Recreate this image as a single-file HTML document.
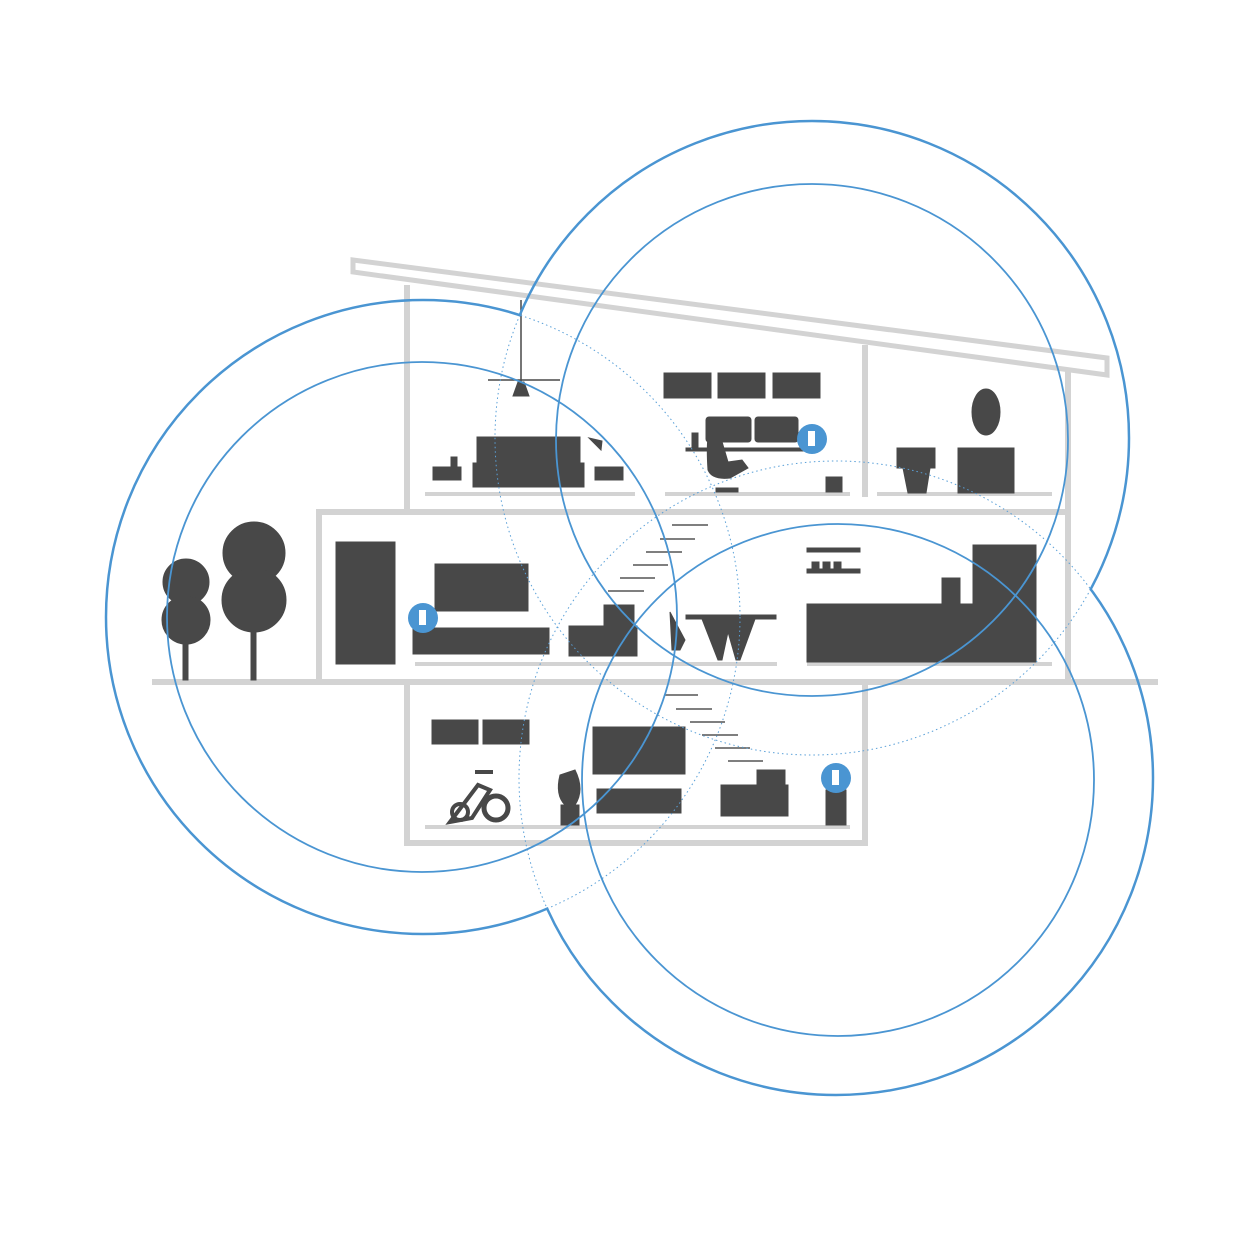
<!DOCTYPE html>
<html><head><meta charset="utf-8"><style>html,body{margin:0;padding:0;background:#fff}svg{display:block}</style></head>
<body>
<svg width="1250" height="1250" viewBox="0 0 1250 1250" xmlns="http://www.w3.org/2000/svg">
<defs>
<mask id="mL" maskUnits="userSpaceOnUse" x="0" y="0" width="1250" height="1250"><rect width="1250" height="1250" fill="#fff"/><circle cx="812" cy="438" r="316" fill="#000"/><circle cx="836" cy="778" r="316" fill="#000"/></mask>
<mask id="mT" maskUnits="userSpaceOnUse" x="0" y="0" width="1250" height="1250"><rect width="1250" height="1250" fill="#fff"/><circle cx="423" cy="617" r="316" fill="#000"/><circle cx="836" cy="778" r="316" fill="#000"/></mask>
<mask id="mB" maskUnits="userSpaceOnUse" x="0" y="0" width="1250" height="1250"><rect width="1250" height="1250" fill="#fff"/><circle cx="423" cy="617" r="316" fill="#000"/><circle cx="812" cy="438" r="316" fill="#000"/></mask>
</defs>
<g fill="none" stroke="#d3d3d3" stroke-width="6">
<polygon points="353,260 1107,358 1107,375 353,272" stroke-width="5"/>
<line x1="407" y1="285" x2="407" y2="512"/>
<line x1="865" y1="345" x2="865" y2="497"/>
<line x1="1068" y1="368" x2="1068" y2="682"/>
<line x1="316" y1="512" x2="1070" y2="512"/>
<line x1="319" y1="512" x2="319" y2="682"/>
<line x1="152" y1="682" x2="1158" y2="682"/>
<polyline points="407,682 407,843 865,843 865,682"/>
</g>
<g stroke="#d3d3d3" stroke-width="4">
<line x1="425" y1="494" x2="635" y2="494"/><line x1="665" y1="494" x2="850" y2="494"/><line x1="877" y1="494" x2="1052" y2="494"/>
<line x1="415" y1="664" x2="777" y2="664"/><line x1="807" y1="664" x2="1052" y2="664"/>
<line x1="425" y1="827" x2="850" y2="827"/>
</g>
<g fill="#484848" stroke="#484848">
<line x1="521" y1="300" x2="521" y2="382" stroke-width="1.5"/><line x1="488" y1="380" x2="560" y2="380" stroke-width="1.5"/>
<polygon points="513,396 529,396 524,382 518,382"/>
<rect x="477" y="437" width="103" height="28"/><rect x="473" y="463" width="111" height="24"/>
<rect x="433" y="467" width="28" height="13"/><rect x="451" y="457" width="6" height="10"/>
<rect x="595" y="467" width="28" height="13"/><polygon points="589,438 602,441 601,450"/>
<rect x="664" y="373" width="47" height="25"/><rect x="718" y="373" width="47" height="25"/><rect x="773" y="373" width="47" height="25"/>
<rect x="706" y="417" width="45" height="25" rx="3"/><rect x="755" y="417" width="43" height="25" rx="3"/>
<path d="M715,418 Q705,425 708,470 Q712,480 730,478 L748,468 L742,460 L728,462 Z"/>
<rect x="692" y="433" width="6" height="15"/><rect x="686" y="448" width="128" height="3"/>
<rect x="826" y="477" width="16" height="15"/><rect x="716" y="488" width="22" height="4"/>
<ellipse cx="986" cy="412" rx="14" ry="23"/>
<rect x="958" y="448" width="56" height="45"/><rect x="897" y="448" width="38" height="20"/><path d="M903,468 L930,468 L926,493 L908,493 Z"/>
<circle cx="186" cy="582" r="23"/><circle cx="186" cy="620" r="24"/><rect x="183" y="620" width="5" height="60"/>
<circle cx="254" cy="553" r="31"/><circle cx="254" cy="600" r="32"/><rect x="251" y="600" width="5" height="80"/>
<rect x="336" y="542" width="59" height="122"/>
<rect x="435" y="564" width="93" height="47"/><rect x="413" y="628" width="136" height="26"/>
<rect x="569" y="626" width="68" height="30"/><rect x="604" y="605" width="30" height="20"/>
<path d="M670,612 L685,640 L680,650 L672,650 Z"/><rect x="686" y="615" width="90" height="4"/>
<path d="M702,619 L718,660 L722,660 L728,632 L736,660 L740,660 L755,619 Z"/>
<rect x="807" y="548" width="53" height="4"/><rect x="807" y="569" width="53" height="4"/>
<rect x="812" y="562" width="7" height="7"/><rect x="823" y="562" width="7" height="7"/><rect x="834" y="562" width="7" height="7"/>
<rect x="807" y="604" width="165" height="58"/><rect x="942" y="578" width="18" height="26"/>
<rect x="973" y="545" width="63" height="117"/>
<rect x="432" y="720" width="46" height="24"/><rect x="483" y="720" width="46" height="24"/>
<path d="M450,822 L478,785 L490,790 L472,818 Z M475,772 L493,772" stroke-width="4" fill="none"/>
<circle cx="496" cy="808" r="12" fill="none" stroke-width="5"/><circle cx="460" cy="812" r="8" fill="none" stroke-width="4"/>
<path d="M560,775 Q555,795 565,805 L575,805 Q585,790 575,770 Z"/><rect x="561" y="805" width="18" height="20"/>
<rect x="593" y="727" width="92" height="47"/><rect x="597" y="789" width="84" height="24"/>
<rect x="721" y="785" width="67" height="31"/><rect x="757" y="770" width="28" height="17"/>
<rect x="826" y="790" width="20" height="35"/>
</g>
<g fill="none" stroke="#555" stroke-width="1.5">
<line x1="672" y1="525" x2="708" y2="525"/><line x1="660" y1="539" x2="695" y2="539"/><line x1="646" y1="552" x2="682" y2="552"/><line x1="633" y1="565" x2="668" y2="565"/><line x1="620" y1="578" x2="655" y2="578"/><line x1="608" y1="591" x2="644" y2="591"/>
<line x1="664" y1="695" x2="698" y2="695"/><line x1="676" y1="709" x2="712" y2="709"/><line x1="690" y1="722" x2="725" y2="722"/><line x1="702" y1="735" x2="738" y2="735"/><line x1="715" y1="748" x2="750" y2="748"/><line x1="728" y1="761" x2="763" y2="761"/>
</g>
<g fill="none" stroke="#5aa0d8" stroke-width="1" stroke-dasharray="1.5,3">
<circle cx="812" cy="438" r="317"/><circle cx="423" cy="617" r="317"/><circle cx="836" cy="778" r="317"/>
</g>
<g fill="none" stroke="#4a95d2" stroke-width="2.5">
<circle cx="812" cy="438" r="317" mask="url(#mT)"/>
<circle cx="423" cy="617" r="317" mask="url(#mL)"/>
<circle cx="836" cy="778" r="317" mask="url(#mB)"/>
</g>
<g fill="none" stroke="#4a95d2" stroke-width="1.8">
<circle cx="812" cy="440" r="256"/><circle cx="422" cy="617" r="255"/><circle cx="838" cy="780" r="256"/>
</g>
<g fill="#4a95d2">
<circle cx="812" cy="439" r="15"/><circle cx="423" cy="618" r="15"/><circle cx="836" cy="778" r="15"/>
</g>
<g fill="#fff"><rect x="808" y="431" width="7" height="15"/><rect x="419" y="610" width="7" height="15"/><rect x="832" y="770" width="7" height="15"/></g>
</svg>
</body></html>
